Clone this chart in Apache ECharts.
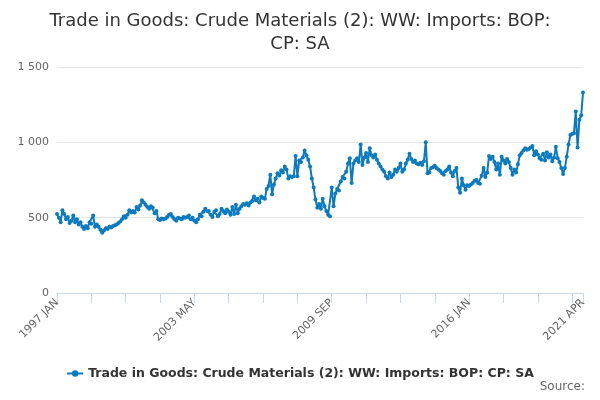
<!DOCTYPE html>
<html>
<head>
    <meta charset="utf-8">
    <script src="https://cdn.jsdelivr.net/npm/echarts@6/dist/echarts.min.js"></script>
</head>
<body style="margin:0">
<div id="main" style="width: 600px;height:400px;"></div>
<script type="text/javascript">
var monthNames = ['JAN', 'FEB', 'MAR', 'APR', 'MAY', 'JUN', 'JUL', 'AUG', 'SEP', 'OCT', 'NOV', 'DEC'];
var firstYear = 1997;
var lastYear = 2021;
var lastMonthCount = 4; // 2021 ends in APR

// monthly values, one row per year
var values = [
    525, 500, 470, 550, 525, 490, 505, 465, 480, 515, 470, 490,   // 1997
    455, 470, 440, 425, 445, 430, 470, 460, 515, 440, 455, 440,   // 1998
    420, 400, 415, 430, 425, 440, 435, 445, 450, 455, 465, 475,   // 1999
    490, 510, 500, 520, 550, 535, 545, 535, 570, 555, 580, 615,   // 2000
    600, 585, 570, 560, 575, 565, 530, 545, 490, 485, 495, 490,   // 2001
    495, 505, 520, 525, 505, 490, 480, 500, 495, 490, 505, 500,   // 2002
    505, 515, 490, 500, 480, 470, 490, 520, 510, 540, 560, 545,   // 2003
    545, 520, 505, 540, 550, 510, 525, 560, 545, 530, 555, 540,   // 2004
    520, 570, 525, 585, 530, 560, 575, 590, 585, 595, 580, 600,   // 2005
    610, 640, 615, 625, 600, 640, 630, 625, 690, 710, 785, 655,   // 2006
    720, 760, 795, 780, 815, 800, 840, 820, 760, 775, 770, 775,   // 2007
    910, 775, 880, 870, 900, 945, 915, 885, 840, 760, 700, 620,   // 2008
    565, 590, 560, 625, 575, 545, 520, 510, 700, 575, 660, 690,   // 2009
    680, 740, 770, 760, 805, 860, 895, 730, 860, 880, 895, 870,   // 2010
    985, 850, 900, 930, 870, 960, 915, 900, 920, 885, 860, 840,   // 2011
    820, 805, 775, 760, 800, 770, 785, 820, 805, 830, 860, 805,   // 2012
    820, 860, 885, 925, 890, 870, 880, 860, 855, 865, 850, 875,   // 2013
    1000, 795, 800, 830, 835, 845, 830, 820, 810, 795, 785, 810,  // 2014
    820, 840, 800, 775, 810, 830, 700, 665, 760, 715, 685, 715,   // 2015
    710, 720, 730, 745, 750, 730, 725, 780, 830, 770, 800, 910,   // 2016
    890, 905, 870, 820, 860, 785, 905, 880, 860, 890, 870, 830,   // 2017
    785, 820, 800, 855, 915, 930, 945, 960, 950, 955, 965, 975,   // 2018
    915, 940, 920, 895, 885, 925, 880, 935, 900, 920, 875, 900,   // 2019
    970, 895, 870, 830, 790, 830, 905, 985, 1049, 1055, 1060, 1205, // 2020
    965, 1150, 1180, 1330                                        // 2021
];

var yTicks = [0, 500, 1000, 1500];
var labelIndexes = [0, 76, 152, 228, 291];
var tickStep = 19;

var seriesName = 'Trade in Goods: Crude Materials (2): WW: Imports: BOP: CP: SA';

var categories = [];
for (var y = firstYear; y <= lastYear; y++) {
    var n = (y === lastYear) ? lastMonthCount : 12;
    for (var m = 0; m < n; m++) {
        categories.push(y + ' ' + monthNames[m]);
    }
}

var chart = echarts.init(document.getElementById('main'));

var option = {
    backgroundColor: '#fff',
    animation: false,
    textStyle: { fontFamily: 'DejaVu Sans' },
    title: [{
        text: 'Trade in Goods: Crude Materials (2): WW: Imports: BOP:\nCP: SA',
        left: 'center',
        top: 5,
        textStyle: {
            color: '#333',
            fontSize: 18,
            fontWeight: 'normal',
            lineHeight: 23,
            fontFamily: 'DejaVu Sans'
        }
    }, {
        text: 'Source:',
        right: 10,
        bottom: 2,
        textStyle: {
            color: '#666',
            fontSize: 12,
            fontWeight: 'normal',
            fontFamily: 'DejaVu Sans'
        }
    }],
    legend: {
        data: [seriesName],
        bottom: 15,
        left: 'center',
        itemWidth: 16,
        itemHeight: 8,
        textStyle: {
            color: '#333',
            fontSize: 12.5,
            fontWeight: 'bold',
            fontFamily: 'DejaVu Sans'
        }
    },
    grid: {
        left: 57,
        right: 17,
        top: 67,
        bottom: 107,
        containLabel: false
    },
    xAxis: {
        type: 'category',
        data: categories,
        boundaryGap: false,
        axisLine: { lineStyle: { color: '#ccd6eb', width: 1 } },
        axisTick: {
            length: 10,
            lineStyle: { color: '#ccd6eb' },
            interval: function (index) {
                return index % tickStep === 0 || index === categories.length - 1;
            }
        },
        axisLabel: {
            rotate: 45,
            color: '#666',
            fontSize: 11,
            margin: 8,
            interval: function (index) {
                return labelIndexes.indexOf(index) >= 0;
            }
        },
        splitLine: { show: false }
    },
    yAxis: {
        type: 'value',
        min: yTicks[0],
        max: yTicks[yTicks.length - 1],
        interval: 500,
        axisLine: { show: false },
        axisTick: { show: false },
        axisLabel: {
            color: '#666',
            fontSize: 11,
            margin: 8,
            formatter: function (v) {
                return String(v).replace(/\B(?=(\d{3})+(?!\d))/g, ' ');
            }
        },
        splitLine: { lineStyle: { color: '#e6e6e6' } }
    },
    series: [{
        name: seriesName,
        type: 'line',
        data: values,
        color: '#0b7bc1',
        symbol: 'circle',
        symbolSize: 4,
        showSymbol: true,
        showAllSymbol: true,
        lineStyle: { width: 2, color: '#0b7bc1' },
        itemStyle: { color: '#0b7bc1' }
    }]
};

chart.setOption(option);
</script>
</body>
</html>
